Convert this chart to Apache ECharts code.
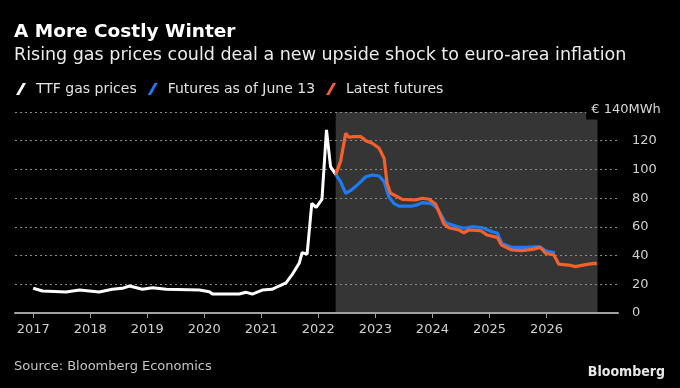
<!DOCTYPE html>
<html><head><meta charset="utf-8">
<script src="https://cdn.jsdelivr.net/npm/echarts@6/dist/echarts.min.js"></script>
<style>html,body{margin:0;padding:0;background:#000}#c{width:680px;height:388px}</style>
</head><body><div id="c"></div>
<script>
// ---- data ----
const yearTicks = [2017, 2018, 2019, 2020, 2021, 2022, 2023, 2024, 2025, 2026];
const yTicks = [0, 20, 40, 60, 80, 100, 120, 140];
const unitLabel = '€ 140MWh';

const ttfDates = ['2017-01-01','2017-03-02','2017-07-30','2017-10-24','2018-02-28','2018-05-22','2018-07-25','2018-09-09','2018-12-01','2019-02-04','2019-05-02','2019-11-30','2020-02-03','2020-02-22','2020-08-12','2020-09-26','2020-11-04','2021-01-07','2021-03-10','2021-04-24','2021-06-08','2021-07-16','2021-09-01','2021-09-19','2021-10-21','2021-11-20','2021-12-18','2022-01-24','2022-02-22','2022-03-20','2022-04-22'];
const ttfValues = [17.2,15.3,14.6,16,14.6,16.5,17.2,18.8,16.5,17.6,16.5,16,14.8,13.2,13.2,14.4,13.2,16,16.5,18.8,21,26.5,34.8,42,41,76.4,73.6,79.2,127.5,101.9,96.5];

const juneDates = ['2022-04-22','2022-05-23','2022-06-25','2022-07-26','2022-09-19','2022-11-01','2022-12-12','2023-01-25','2023-02-26','2023-03-28','2023-04-29','2023-06-01','2023-08-25','2023-09-26','2023-10-28','2023-12-21','2024-02-02','2024-03-26','2024-05-28','2024-07-21','2024-09-13','2024-11-16','2025-01-19','2025-02-20','2025-03-22','2025-05-25','2025-08-20','2025-11-14','2025-12-26','2026-02-24'];
const juneValues = [96.5,91.5,83.4,85.2,90.3,94.9,96.1,95.4,91.5,81.0,76.4,74.5,74.5,75.3,76.9,76.4,72.9,62.9,60.6,59.0,60.1,59.4,56.6,55.7,48.5,45.7,45.7,46.2,43.4,42.0];

const latestDates = ['2022-04-22','2022-05-23','2022-06-25','2022-07-16','2022-08-17','2022-09-29','2022-11-01','2022-12-12','2023-01-25','2023-02-26','2023-03-17','2023-04-08','2023-05-10','2023-06-22','2023-09-16','2023-10-28','2023-12-10','2024-01-22','2024-03-15','2024-04-16','2024-06-19','2024-07-21','2024-08-22','2024-11-06','2024-12-18','2025-02-20','2025-03-19','2025-05-25','2025-07-29','2025-10-02','2025-11-24','2025-12-26','2026-02-18','2026-03-20','2026-05-23','2026-07-05','2026-09-08','2026-11-01','2026-11-20'];
const latestValues = [96.5,105.4,125.1,122.4,122.9,122.9,120,118.2,114.7,107.7,90.3,83.4,81.7,79.2,78.7,79.9,79.2,75.9,62.0,59.4,57.8,55.9,57.8,57.3,54.3,52.7,47.4,43.9,43.4,44.3,45.7,41.6,40.4,34.1,33.4,32.3,33.7,34.6,34.4];

const xMin = '2016-09-06';
const xMax = '2027-04-04';
const shadeStart = latestDates[0];
const shadeEnd = '2026-11-24';

// ---- helpers: date string -> fractional year on a value axis ----
function toYear(s) {
  const [y, m, d] = s.split('-').map(Number);
  const start = Date.UTC(y, 0, 1), end = Date.UTC(y + 1, 0, 1);
  return y + (Date.UTC(y, m - 1, d) - start) / (end - start);
}
const pair = (d, v) => d.map((x, i) => [toYear(x), v[i]]);

// ---- chart ----
const FONT = 'DejaVu Sans';
const chart = echarts.init(document.getElementById('c'), null, {renderer: 'canvas'});
chart.setOption({
  backgroundColor: '#000',
  animation: false,
  textStyle: {fontFamily: FONT},
  title: [
    {text: 'A More Costly Winter', left: 14, top: 23, padding: 0,
     textStyle: {color: '#fff', fontSize: 18.5, fontWeight: 'bold', fontFamily: FONT}},
    {text: 'Rising gas prices could deal a new upside shock to euro-area inflation', left: 14, top: 46, padding: 0,
     textStyle: {color: '#ececec', fontSize: 17.5, fontWeight: 'normal', fontFamily: FONT}},
    {text: 'Source: Bloomberg Economics', left: 14, top: 360, padding: 0,
     textStyle: {color: '#c4c4c4', fontSize: 13, fontWeight: 'normal', fontFamily: FONT}},
    {text: 'Bloomberg', right: 15, top: 365, padding: 0,
     textStyle: {color: '#e8e8e8', fontSize: 14, fontWeight: 'bold', fontFamily: 'DejaVu Sans Condensed'}}
  ],
  legend: {
    left: 16, top: 82, padding: 0,
    itemWidth: 10, itemHeight: 12, itemGap: 11,
    icon: 'path://M0,12L6.8,0L10,0L3.2,12Z',
    textStyle: {color: '#e2e2e2', fontSize: 14, fontFamily: FONT, padding: [0, 0, 0, 5]},
    data: ['TTF gas prices', 'Futures as of June 13', 'Latest futures']
  },
  grid: {left: 15, right: 62, top: 112, bottom: 75},
  xAxis: {
    type: 'value', min: toYear(xMin), max: toYear(xMax),
    axisLine: {show: true, lineStyle: {color: '#a0a0a0', width: 2}},
    axisTick: {show: true, length: 5, lineStyle: {color: '#a0a0a0', width: 1},
      customValues: yearTicks},
    axisLabel: {color: '#d0d0d0', fontSize: 13, fontFamily: FONT, margin: 10,
      customValues: yearTicks,
      formatter: v => String(Math.round(v))},
    splitLine: {show: false}
  },
  yAxis: {
    type: 'value', position: 'right', min: yTicks[0], max: yTicks[yTicks.length - 1], interval: 20,
    axisLine: {show: false}, axisTick: {show: false},
    axisLabel: {color: '#d0d0d0', fontSize: 13, fontFamily: FONT, margin: 14, align: 'left',
      formatter: v => v === yTicks[yTicks.length - 1] ? '' : String(v)},
    splitLine: {show: true, lineStyle: {color: '#8c8c8c', type: [2, 3], width: 1}},
    name: '{a|' + unitLabel + '}', nameLocation: 'end', nameGap: 2,
    nameTextStyle: {align: 'center', verticalAlign: 'middle', padding: [0, 0, 0, 11],
      rich: {a: {color: '#d8d8d8', fontSize: 13, fontFamily: FONT, backgroundColor: '#000', padding: [3, 0, 3, 5]}}}
  },
  series: [
    {name: 'TTF gas prices', type: 'line', data: pair(ttfDates, ttfValues), showSymbol: false, symbol: 'none',
     lineStyle: {color: '#ffffff', width: 3}, itemStyle: {color: '#ffffff'}, z: 3},
    {name: 'Futures as of June 13', type: 'line', data: pair(juneDates, juneValues), showSymbol: false, symbol: 'none',
     lineStyle: {color: '#1c7cf5', width: 3.2}, itemStyle: {color: '#1c7cf5'}, z: 3,
     markArea: {silent: true, z: -1, itemStyle: {color: '#353535'},
       data: [[{xAxis: toYear(shadeStart)}, {xAxis: toYear(shadeEnd)}]]}},
    {name: 'Latest futures', type: 'line', data: pair(latestDates, latestValues), showSymbol: false, symbol: 'none',
     lineStyle: {color: '#f5602c', width: 3.2}, itemStyle: {color: '#f5602c'}, z: 4}
  ]
});
</script></body></html>
